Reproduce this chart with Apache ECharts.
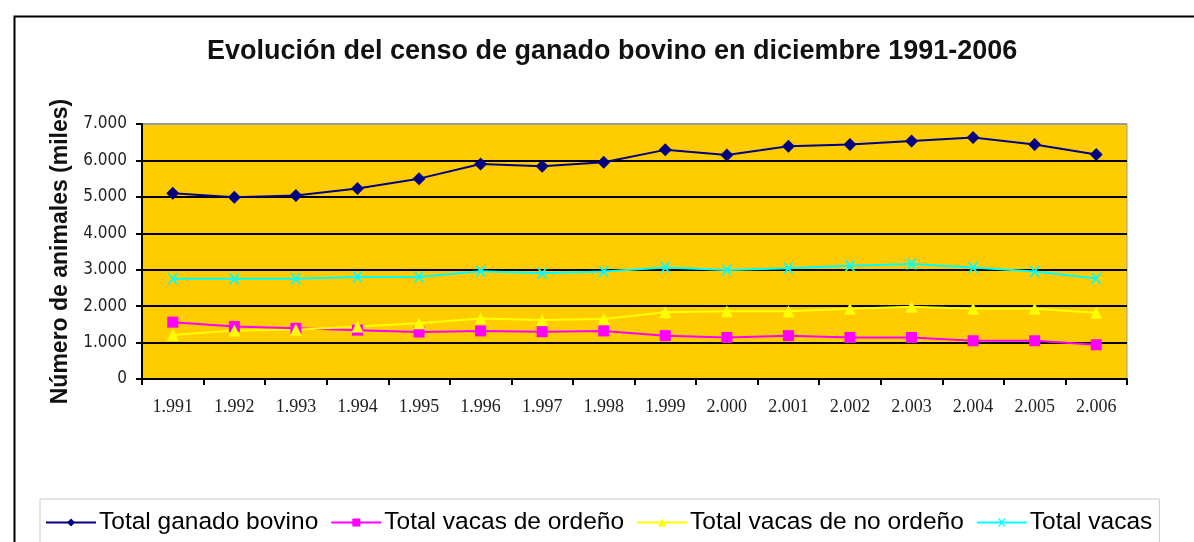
<!DOCTYPE html>
<html>
<head>
<meta charset="utf-8">
<script src="https://cdn.jsdelivr.net/npm/echarts@6/dist/echarts.min.js"></script>
<style>
  html, body { margin: 0; padding: 0; background: #fff; }
  #chart { width: 1194px; height: 542px; }
</style>
</head>
<body>
<div id="chart"></div>
<script>
// 年份（类目轴标签）
const years = ['1.991', '1.992', '1.993', '1.994', '1.995', '1.996', '1.997', '1.998',
  '1.999', '2.000', '2.001', '2.002', '2.003', '2.004', '2.005', '2.006'];

// 各系列数值（千头）
const totalBovino = [5100, 4990, 5040, 5230, 5500, 5900, 5840, 5950, 6290, 6150, 6390, 6440, 6530, 6630, 6440, 6160];
const vacasOrdeno = [1560, 1440, 1390, 1340, 1290, 1320, 1300, 1320, 1190, 1140, 1190, 1140, 1140, 1050, 1050, 940];
const vacasNoOrdeno = [1210, 1330, 1350, 1440, 1530, 1660, 1620, 1650, 1830, 1860, 1860, 1930, 1980, 1930, 1930, 1820];
const totalVacas = [2750, 2750, 2750, 2800, 2800, 2960, 2900, 2950, 3060, 2990, 3040, 3110, 3160, 3060, 2950, 2760];

const seriesNames = ['Total ganado bovino', 'Total vacas de ordeño', 'Total vacas de no ordeño', 'Total vacas'];

// 刻度
const yTicks = [0, 1000, 2000, 3000, 4000, 5000, 6000, 7000];

const CROSS = 'path://M0,0 L2,0 L5,3.5 L8,0 L10,0 L6,5 L10,10 L8,10 L5,6.5 L2,10 L0,10 L4,5 Z';

function fmtThousands(v) {
  return String(v).replace(/\B(?=(\d{3})+(?!\d))/g, '.');
}

function lineSeries(name, data, color, symbol, size) {
  return {
    name: name,
    type: 'line',
    data: data,
    symbol: symbol,
    symbolSize: size,
    showAllSymbol: true,
    lineStyle: { color: color, width: 2 },
    itemStyle: { color: color, borderWidth: 0 },
    emphasis: { disabled: true }
  };
}

const chart = echarts.init(document.getElementById('chart'));

const option = {
  backgroundColor: '#fff',
  animation: false,
  title: {
    text: 'Evolución del censo de ganado bovino en diciembre 1991-2006',
    left: 202,
    top: 33,
    textStyle: {
      fontFamily: 'Liberation Sans',
      fontWeight: 'bold',
      fontSize: 27,
      color: '#111'
    }
  },
  graphic: [
    {
      type: 'rect',
      left: 12,
      top: 14,
      shape: { width: 1300, height: 700 },
      style: { fill: 'none', stroke: '#000', lineWidth: 2 },
      silent: true
    }
  ],
  legend: {
    left: 40,
    top: 499,
    width: 1140,
    itemWidth: 50,
    itemHeight: 10,
    itemGap: 12,
    padding: [11, 7, 40, 5],
    borderColor: '#c8c8c8',
    borderWidth: 1,
    data: seriesNames,
    textStyle: {
      fontFamily: 'Liberation Sans',
      fontSize: 24.5,
      color: '#000',
      padding: [0, 0, 0, -2]
    }
  },
  grid: {
    left: 142,
    right: 67,
    top: 124,
    bottom: 163,
    show: true,
    backgroundColor: '#FFCC00',
    borderColor: '#9a9a9a',
    borderWidth: 1
  },
  xAxis: {
    type: 'category',
    data: years,
    boundaryGap: true,
    axisLine: { lineStyle: { color: '#000', width: 2 } },
    axisTick: { show: true, inside: false, length: 6, lineStyle: { color: '#000', width: 2 } },
    axisLabel: {
      fontFamily: 'Liberation Serif',
      fontSize: 18,
      color: '#222',
      margin: 19
    },
    splitLine: { show: false }
  },
  yAxis: {
    type: 'value',
    min: yTicks[0],
    max: yTicks[yTicks.length - 1],
    interval: 1000,
    name: 'Número de animales (miles)',
    nameLocation: 'middle',
    nameGap: 68,
    nameTextStyle: {
      fontFamily: 'Liberation Sans',
      fontWeight: 'bold',
      fontSize: 23,
      color: '#111'
    },
    axisLine: { show: true, lineStyle: { color: '#000', width: 2 } },
    axisTick: { show: true, inside: false, length: 6, lineStyle: { color: '#000', width: 2 } },
    axisLabel: {
      fontFamily: 'DejaVu Sans Condensed, Liberation Sans',
      fontSize: 17,
      color: '#222',
      margin: 15,
      formatter: fmtThousands
    },
    splitLine: {
      show: true,
      lineStyle: { color: ['#000', '#000', '#000', '#000', '#000', '#000', '#000', '#9a9a9a'], width: 2 }
    }
  },
  series: [
    lineSeries(seriesNames[0], totalBovino, '#000080', 'diamond', 13),
    lineSeries(seriesNames[1], vacasOrdeno, '#FF00FF', 'rect', 11),
    lineSeries(seriesNames[2], vacasNoOrdeno, '#FFFF00', 'triangle', 12),
    lineSeries(seriesNames[3], totalVacas, '#00FFFF', CROSS, 11)
  ]
};

chart.setOption(option);
</script>
</body>
</html>
